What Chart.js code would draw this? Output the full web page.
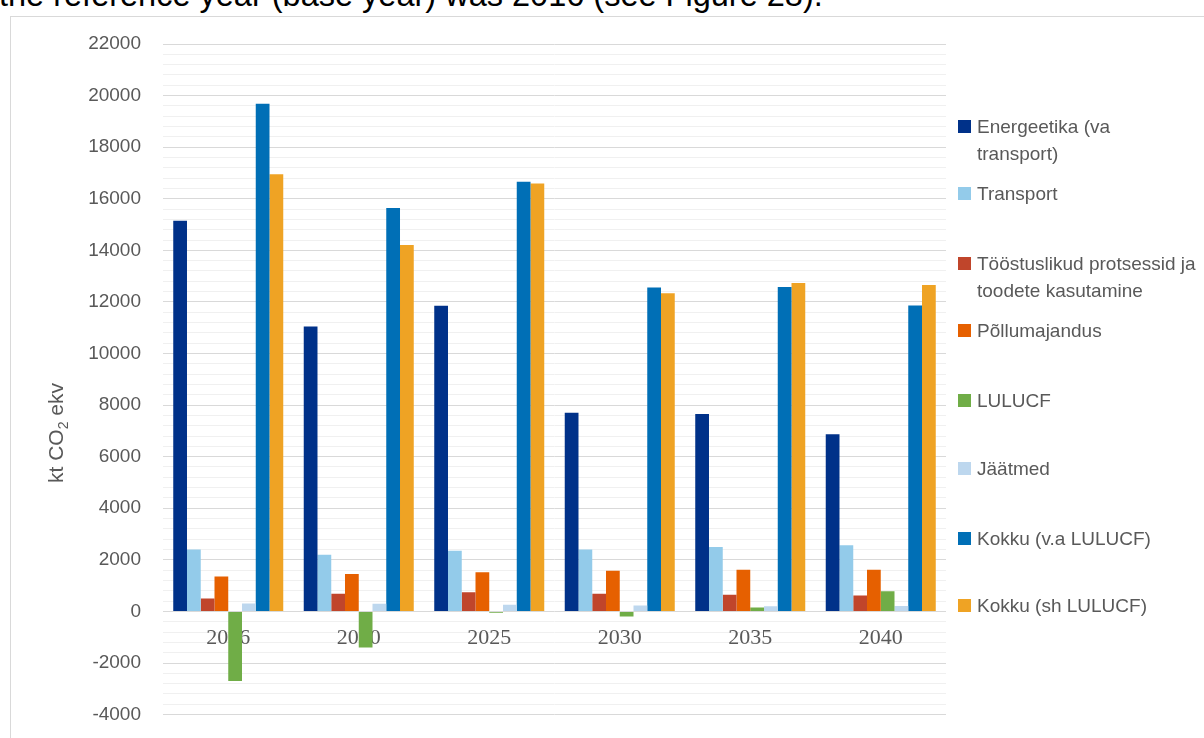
<!DOCTYPE html>
<html>
<head>
<meta charset="utf-8">
<script src="https://cdn.jsdelivr.net/npm/chart.js@4.4.1/dist/chart.umd.min.js"></script>
<style>
html, body { margin: 0; padding: 0; background: #fff; overflow: hidden; }
#wrap { position: relative; width: 1204px; height: 738px; overflow: hidden; }
#lead { position: absolute; left: -1px; top: -21px; font: 32.5px "Liberation Sans", Arial, sans-serif; line-height: 32px; color: #000; white-space: nowrap; }
#frame { position: absolute; left: 10px; top: 16px; width: 1300px; height: 800px; border: 1px solid #d9d9d9; box-sizing: border-box; }
#box { position: absolute; left: 0; top: 0; width: 1204px; height: 748px; }
#legend { position: absolute; left: 958px; top: 0; }
.item { position: absolute; left: 0; width: 246px; padding-left: 19px; font: 19px "Liberation Sans", Arial, sans-serif; line-height: 27px; color: #595959; white-space: pre-line; }
.item i { position: absolute; left: 0; top: 7px; width: 13px; height: 13px; }
</style>
</head>
<body>
<div id="wrap">
  <div id="lead">the reference year (base year) was 2016 (see Figure 28).</div>
  <div id="frame"></div>
  <div id="box"><canvas id="c"></canvas></div>
  <div id="legend"></div>
</div>
<script>
// years on the category axis
var years = ['2016', '2020', '2025', '2030', '2035', '2040']

// series (kt CO2 ekv)
var energeetika = [15150, 11050, 11850, 7700, 7650, 6870]
var transport = [2400, 2200, 2350, 2400, 2500, 2570]
var toostus = [500, 690, 740, 690, 650, 620]
var pollumajandus = [1350, 1450, 1520, 1580, 1620, 1620]
var lulucf = [-2700, -1400, -50, -200, 150, 780]
var jaatmed = [310, 300, 260, 230, 200, 210]
var kokkuVa = [19680, 15640, 16660, 12560, 12580, 11860]
var kokkuSh = [16950, 14210, 16590, 12340, 12730, 12660]

var seriesNames = [
    'Energeetika (va\ntransport)',
    'Transport',
    'Tööstuslikud protsessid ja\ntoodete kasutamine',
    'Põllumajandus',
    'LULUCF',
    'Jäätmed',
    'Kokku (v.a LULUCF)',
    'Kokku (sh LULUCF)'
]
var seriesData = [energeetika, transport, toostus, pollumajandus, lulucf, jaatmed, kokkuVa, kokkuSh]
var colors = ['#003189', '#93cbea', '#c0452b', '#e66000', '#70ad47', '#bdd7ee', '#006fb6', '#efa324']

// legend rows, tops in px (Excel spaces them unevenly)
var legendTops = [113, 180, 250, 317, 387, 455, 525, 592]

var legend = document.getElementById('legend')
seriesNames.forEach(function (name, i) {
    var d = document.createElement('div')
    d.className = 'item'
    d.style.top = legendTops[i] + 'px'
    var m = document.createElement('i')
    m.style.background = colors[i]
    d.appendChild(m)
    d.appendChild(document.createTextNode(name))
    legend.appendChild(d)
})

var yTitle = {
    id: 'yTitle',
    afterDraw: function (chart) {
        var c = chart.ctx
        var big = '21px "Liberation Sans", Arial, sans-serif'
        var small = '14px "Liberation Sans", Arial, sans-serif'
        c.save()
        c.fillStyle = '#595959'
        c.translate(63, 433)
        c.rotate(-Math.PI / 2)
        c.font = big
        var wa = c.measureText('kt CO').width
        var wd = c.measureText(' ekv').width
        c.font = small
        var wb = c.measureText('2').width
        var x = -(wa + wb + wd) / 2
        c.font = big
        c.fillText('kt CO', x, 0)
        c.font = small
        c.fillText('2', x + wa, 5)
        c.font = big
        c.fillText(' ekv', x + wa + wb, 0)
        c.restore()
    }
}

var ctx = document.getElementById('c').getContext('2d')
var myChart = new Chart(ctx, {
    type: 'bar',
    data: {
        labels: years,
        datasets: seriesNames.map(function (name, i) {
            return {
                label: name.replace('\n', ' '),
                data: seriesData[i],
                backgroundColor: colors[i],
                borderWidth: 0,
                categoryPercentage: 0.843,
                barPercentage: 1.0
            }
        })
    },
    options: {
        responsive: true,
        maintainAspectRatio: false,
        animation: false,
        layout: { padding: { left: 0, right: 258, top: 44, bottom: 24 } },
        plugins: { legend: { display: false }, tooltip: { enabled: false } },
        scales: {
            x: {
                position: { y: 0 },
                grid: { display: false, drawTicks: false },
                border: { display: false },
                ticks: {
                    color: '#595959',
                    padding: 14,
                    font: { family: '"Liberation Serif", "Times New Roman", serif', size: 22 }
                }
            },
            y: {
                min: -4000,
                max: 22000,
                afterFit: function (scale) { scale.width = 163 },
                border: { display: false },
                grid: {
                    drawTicks: false,
                    color: function (c) {
                        if (!c.tick) return '#f0f0f0'
                        return Math.round(c.tick.value) % 2000 === 0 ? '#d9d9d9' : '#f0f0f0'
                    }
                },
                ticks: {
                    stepSize: 400,
                    autoSkip: false,
                    padding: 22,
                    color: '#595959',
                    font: { family: '"Liberation Sans", Arial, sans-serif', size: 19 },
                    callback: function (v) {
                        var r = Math.round(v)
                        return r % 2000 === 0 ? String(r === 0 ? 0 : r) : ''
                    }
                }
            }
        }
    },
    plugins: [yTitle]
})
</script>
</body>
</html>
